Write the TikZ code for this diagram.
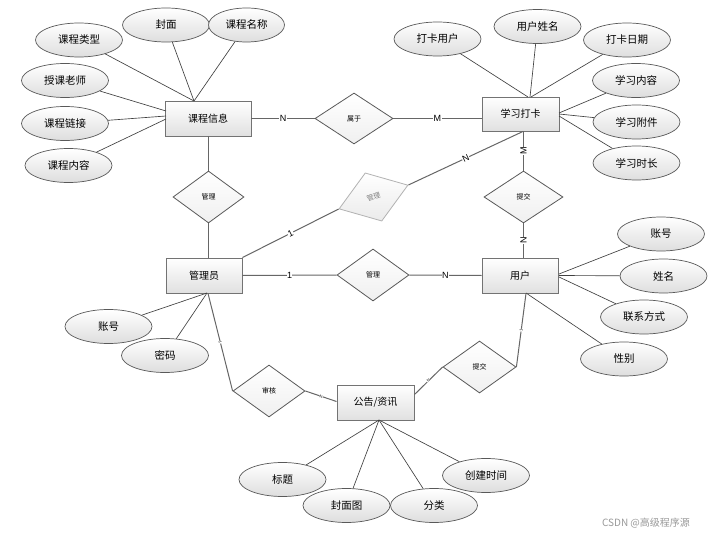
\documentclass[tikz,border=0pt]{standalone}
\usepackage{fontspec}
\setmainfont{Liberation Sans}
\newfontfamily\cjk{Noto Sans CJK SC}
\usetikzlibrary{shapes.geometric,shadows}
\begin{document}
\begin{tikzpicture}[x=1pt,y=-1pt,
  ent/.style={draw=black!55, line width=0.9pt, rectangle, top color=white, bottom color=black!12,
    drop shadow={shadow xshift=1.2pt, shadow yshift=-1.2pt, fill=black!45, opacity=0.45},
    font=\cjk\fontsize{10}{12}\selectfont, inner sep=0},
  attr/.style={ellipse, draw=black!65, line width=0.7pt, top color=white, bottom color=black!13,
    minimum width=87pt, minimum height=34pt, inner sep=0, font=\cjk\fontsize{10.5}{12}\selectfont},
  rel/.style={diamond, draw=black!65, line width=0.8pt, top color=white, bottom color=black!6,
    inner sep=0, font=\cjk\fontsize{7}{8}\selectfont},
  link/.style={draw=black!60, line width=1pt},
  aline/.style={draw=black!75, line width=0.65pt},
  card/.style={font=\fontsize{9}{10}\selectfont, fill=white, inner sep=0.4pt},
  tinycard/.style={font=\fontsize{4}{4}\selectfont, fill=white, inner sep=0.2pt, sloped}
]
\fill[white] (0,0) rectangle (714,537);
\useasboundingbox (0,0) rectangle (714,537);

% entities
\node[ent, minimum width=86pt, minimum height=35pt] (kc) at (208,118.5) {课程信息};
\node[ent, minimum width=77pt, minimum height=34pt] (xx) at (520.5,114) {学习打卡};
\node[ent, minimum width=76pt, minimum height=35pt] (gly) at (204,275.5) {管理员};
\node[ent, minimum width=76pt, minimum height=35pt] (yh) at (520,275.5) {用户};
\node[ent, minimum width=77pt, minimum height=35pt] (gg) at (375.5,402.5) {公告/资讯};

% relationships
\node[rel, minimum width=78pt, minimum height=51pt] (sy) at (354,118.5) {属于};
\node[rel, minimum width=71pt, minimum height=52pt] (gl1) at (208.5,197) {管理};
\node[rel, minimum width=79pt, minimum height=52pt] (tj1) at (523.5,197) {提交};
\node[rel, minimum width=72pt, minimum height=52pt] (gl2) at (373,275) {管理};
\node[rel, minimum width=72pt, minimum height=52pt] (sh) at (269,391) {审核};
\node[rel, minimum width=73pt, minimum height=52pt] (tj2) at (479.5,367) {提交};
\node[rel, draw=black!30, text=black!50, top color=white, bottom color=black!8,
      minimum width=73pt, minimum height=51pt, rotate=19] (gd) at (373.5,197) {管理};

% attributes
\node[attr] (a1) at (79,40) {课程类型};
\node[attr] (a2) at (166,25) {封面};
\node[attr, minimum width=76pt] (a3) at (246.5,25) {课程名称};
\node[attr] (a4) at (65,80.5) {授课老师};
\node[attr] (a5) at (65,123.5) {课程链接};
\node[attr] (a6) at (68.5,165.5) {课程内容};

\node[attr] (b1) at (437.5,39) {打卡用户};
\node[attr] (b2) at (537.5,26.5) {用户姓名};
\node[attr] (b3) at (627,40) {打卡日期};
\node[attr] (b4) at (636,80.5) {学习内容};
\node[attr] (b5) at (636.5,122) {学习附件};
\node[attr] (b6) at (636.5,163) {学习时长};

\node[attr] (c1) at (108.5,326.5) {账号};
\node[attr] (c2) at (165,355.5) {密码};

\node[attr] (d1) at (661,234) {账号};
\node[attr] (d2) at (663.5,276) {姓名};
\node[attr] (d3) at (644,317) {联系方式};
\node[attr] (d4) at (624,359) {性别};

\node[attr] (e1) at (282.5,479.5) {标题};
\node[attr] (e2) at (346.5,505.5) {封面图};
\node[attr] (e3) at (434,505.5) {分类};
\node[attr] (e4) at (486,475.5) {创建时间};

% attribute anchor points
\coordinate (kcT) at (194,101);
\coordinate (kcL1) at (166,111);
\coordinate (kcL2) at (166,116);
\coordinate (kcL3) at (166,119);
\coordinate (xxT1) at (528,97);
\coordinate (xxT2) at (530,97);
\coordinate (xxT3) at (531,97);
\coordinate (xxR1) at (559,113);
\coordinate (xxR2) at (559,114);
\coordinate (xxR3) at (559,116);
\coordinate (glyB) at (207,293);
\coordinate (yhR1) at (559,274);
\coordinate (yhR2) at (559,275.5);
\coordinate (yhR3) at (559,277);
\coordinate (yhB) at (526,293);
\coordinate (ggB) at (379,420);

\draw[aline] (a1) -- (kcT);
\draw[aline] (a2) -- (kcT);
\draw[aline] (a3) -- (kcT);
\draw[aline] (a4) -- (kcL1);
\draw[aline] (a5) -- (kcL2);
\draw[aline] (a6) -- (kcL3);
\draw[aline] (b1) -- (xxT1);
\draw[aline] (b2) -- (xxT2);
\draw[aline] (b3) -- (xxT3);
\draw[aline] (b4) -- (xxR1);
\draw[aline] (b5) -- (xxR2);
\draw[aline] (b6) -- (xxR3);
\draw[aline] (c1) -- (glyB);
\draw[aline] (c2) -- (glyB);
\draw[aline] (d1) -- (yhR1);
\draw[aline] (d2) -- (yhR2);
\draw[aline] (d3) -- (yhR3);
\draw[aline] (d4) -- (yhB);
\draw[aline] (e1) -- (ggB);
\draw[aline] (e2) -- (ggB);
\draw[aline] (e3) -- (ggB);
\draw[aline] (e4) -- (ggB);

% relationship connectors
\draw[link] (kc.east) -- node[card] {N} (sy.west);
\draw[link] (sy.east) -- node[card] {M} (sy.east -| xx.west);
\draw[link] (kc.south -| gl1.north) -- (gl1.north);
\draw[link] (gl1.south) -- (gl1.south |- gly.north);
\draw[link] (tj1.north |- xx.south) -- node[card, rotate=90] {M} (tj1.north);
\draw[link] (tj1.south) -- node[card, rotate=90] {N} (tj1.south |- yh.north);
\draw[link] (gly.north east) -- node[card, sloped] {1} (gd.west);
\draw[link] (gd.east) -- node[card, sloped] {N} ([xshift=2.5pt]xx.south);
\draw[link] (gly.east) -- node[card] {1} (gl2.west);
\draw[link] (gl2.east) -- node[card] {N} (yh.west);
\draw[link] ([xshift=4pt]gly.south) -- node[tinycard] {1} (sh.west);
\draw[link] (sh.east) -- node[tinycard] {N} ([yshift=1pt]gg.west);
\draw[link] ([xshift=6pt]yh.south) -- node[tinycard] {1} (tj2.east);
\draw[link] (tj2.west) -- node[tinycard] {N} ([yshift=-10pt]gg.north east);

% watermark
\node[font=\cjk\fontsize{10}{12}\selectfont, text=black!40, inner sep=0] (wm) at (646,523) {CSDN @高级程序源};
\end{tikzpicture}
\end{document}
